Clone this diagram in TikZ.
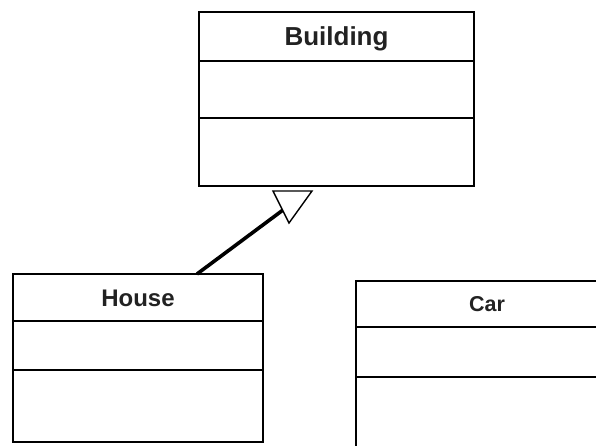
\documentclass[tikz,border=0pt]{standalone}
\usepackage{fontspec}
\setmainfont{Liberation Sans}
\usetikzlibrary{positioning}
\definecolor{inkgrey}{HTML}{222222}
\tikzset{
  classname/.style={draw, line width=1.8pt, inner sep=0pt, outer sep=0pt,
                    text=inkgrey, text depth=0pt},
  classpart/.style={draw, line width=1.8pt, inner sep=0pt, outer sep=0pt},
  inherit/.style={line width=3.6pt},
  hollowtip/.style={draw, line width=1.4pt, fill=white, line join=miter},
}
\begin{document}
\begin{tikzpicture}[x=1pt,y=-1pt]
  \clip (0,0) rectangle (596,446);
  % Building
  \node[classname, minimum width=275pt, minimum height=49pt, anchor=north west, text height=18.6pt,
        font=\fontsize{26}{30}\selectfont\bfseries] (building) at (199,12) {Building};
  \node[classpart, minimum width=275pt, minimum height=57pt, below=0pt of building] (buildingattr) {};
  \node[classpart, minimum width=275pt, minimum height=68pt, below=0pt of buildingattr] (buildingops) {};
  % House
  \node[classname, minimum width=250pt, minimum height=47pt, anchor=north west, text height=17.2pt,
        font=\fontsize{24}{28}\selectfont\bfseries] (house) at (13,274) {House};
  \node[classpart, minimum width=250pt, minimum height=49pt, below=0pt of house] (houseattr) {};
  \node[classpart, minimum width=250pt, minimum height=72pt, below=0pt of houseattr] (houseops) {};
  % Car
  \node[classname, minimum width=262pt, minimum height=46pt, anchor=north west, text height=15.5pt,
        font=\fontsize{21.5}{25}\selectfont\bfseries] (car) at (356,281) {Car};
  \node[classpart, minimum width=262pt, minimum height=50pt, below=0pt of car] (carattr) {};
  \node[classpart, minimum width=262pt, minimum height=90pt, below=0pt of carattr] (carops) {};
  % generalization
  \coordinate (tipleft) at (273,191);
  \coordinate (tipright) at (312,191);
  \coordinate (tipbottom) at (289,223);
  \coordinate (lineend) at (283,210);
  \draw[inherit] ([xshift=184pt]house.north west) -- (lineend);
  \draw[hollowtip] (tipleft) -- (tipright) -- (tipbottom) -- cycle;
\end{tikzpicture}
\end{document}
